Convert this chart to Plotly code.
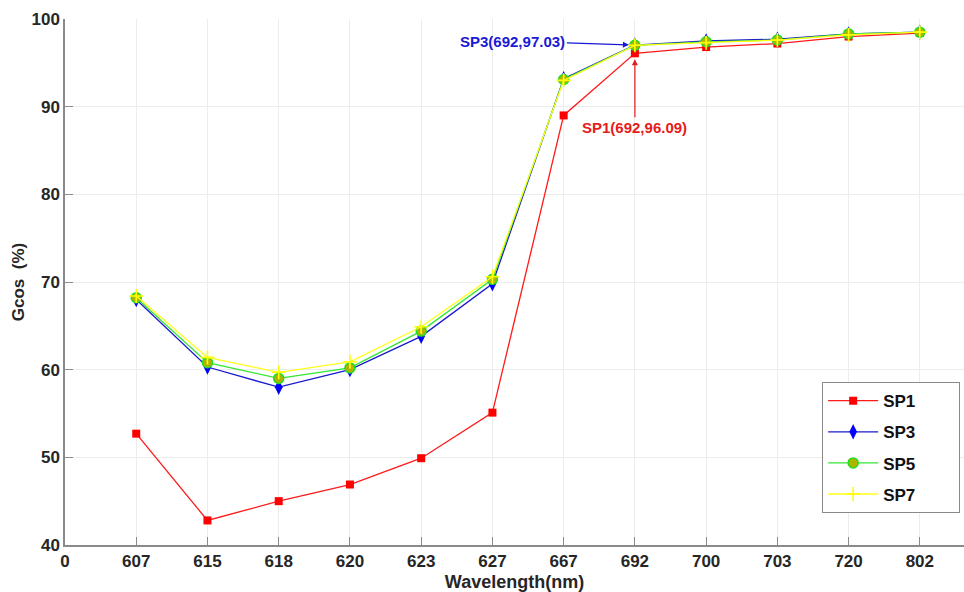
import plotly.graph_objects as go

wavelengths = ["607", "615", "618", "620", "623", "627", "667", "692", "700", "703", "720", "802"]
sp1 = [52.7, 42.8, 45.0, 46.9, 49.9, 55.1, 89.0, 96.09, 96.8, 97.2, 98.0, 98.4]
sp3 = [68.0, 60.3, 58.0, 60.0, 63.8, 69.8, 93.2, 97.03, 97.5, 97.7, 98.3, 98.5]
sp5 = [68.2, 60.8, 59.0, 60.2, 64.4, 70.3, 93.1, 97.0, 97.4, 97.6, 98.3, 98.5]
sp7 = [68.4, 61.4, 59.7, 60.9, 64.9, 70.6, 93.0, 97.0, 97.3, 97.6, 98.2, 98.5]
tick_labels = ["0"] + wavelengths
x_idx = list(range(1, len(wavelengths) + 1))

FONT = "Liberation Sans"
PAD = "&nbsp;" * 8

fig = go.Figure()
series = [
    ("SP1", sp1, "#ff1a1a", dict(symbol="square", size=8, color="#ff0000", line=dict(width=0))),
    ("SP3", sp3, "#1a1acc", dict(symbol="diamond-tall", size=11, color="#0000ff", line=dict(width=0))),
    ("SP5", sp5, "#33e633", dict(symbol="circle", size=10, color="#b0b400", line=dict(width=1.5, color="#22dd22"))),
    ("SP7", sp7, "#ffff1a", dict(symbol="cross-thin", size=10, color="#ffff00", line=dict(width=1.6, color="#ffff00"))),
]
for name, ys, lc, mk in series:
    fig.add_trace(go.Scatter(
        x=x_idx, y=ys, name=f"<b>{name}</b>{PAD}", mode="lines+markers",
        line=dict(color=lc, width=1.3), marker=mk, legendgroup=name,
    ))

i692 = wavelengths.index("692")
fig.add_annotation(
    x=x_idx[i692], y=sp3[i692], xref="x", yref="y", text="<b>SP3(692,97.03)</b>",
    showarrow=True, ax=-122, ay=-4, arrowcolor="#1a1ad6", arrowhead=2,
    arrowsize=1, arrowwidth=1.2, standoff=6,
    font=dict(family=FONT, size=15, color="#1a1ad6"),
)
fig.add_annotation(
    x=x_idx[i692], y=sp1[i692], xref="x", yref="y", text="<b>SP1(692,96.09)</b>",
    showarrow=True, ax=0, ay=74, arrowcolor="#e81a1a", arrowhead=2,
    arrowsize=1, arrowwidth=1.2, standoff=6,
    font=dict(family=FONT, size=15, color="#e81a1a"),
)

axis_common = dict(
    showgrid=True, gridcolor="#ececec", gridwidth=1,
    showline=True, linecolor="#8a8a8a", linewidth=1.5,
    ticks="inside", ticklen=8, tickcolor="#8a8a8a", tickwidth=1.2,
    tickfont=dict(family=FONT, size=17, color="#262626"),
    zeroline=False,
)
fig.update_xaxes(
    **axis_common, automargin=False, range=[0, 12.62], tickmode="array",
    tickvals=list(range(0, len(tick_labels))), ticktext=[f"<b>{t}</b>" for t in tick_labels],
    title=dict(text="<b>Wavelength(nm)</b>", font=dict(family=FONT, size=18, color="#262626")),
)
fig.update_yaxes(
    **axis_common, automargin=True, range=[40, 100], tickmode="array",
    tickvals=[40, 50, 60, 70, 80, 90, 100], ticktext=[f"<b>{v}</b>" for v in [40, 50, 60, 70, 80, 90, 100]],
    title=dict(text="<b>Gcos  (%)</b>", font=dict(family=FONT, size=17, color="#262626"), standoff=3),
)

fig.update_layout(
    width=964, height=592,
    margin=dict(l=65, r=0, t=19, b=47),
    plot_bgcolor="white", paper_bgcolor="white",
    legend=dict(
        x=0.842, y=0.31, xanchor="left", yanchor="top",
        bgcolor="white", bordercolor="#8a8a8a", borderwidth=1.2,
        font=dict(family=FONT, size=17, color="#111111"),
        itemwidth=50, tracegroupgap=6, traceorder="grouped",
    ),
    showlegend=True,
)

fig.write_html("out.html", config={"displayModeBar": False},
               post_script="document.body.style.margin='0';")
